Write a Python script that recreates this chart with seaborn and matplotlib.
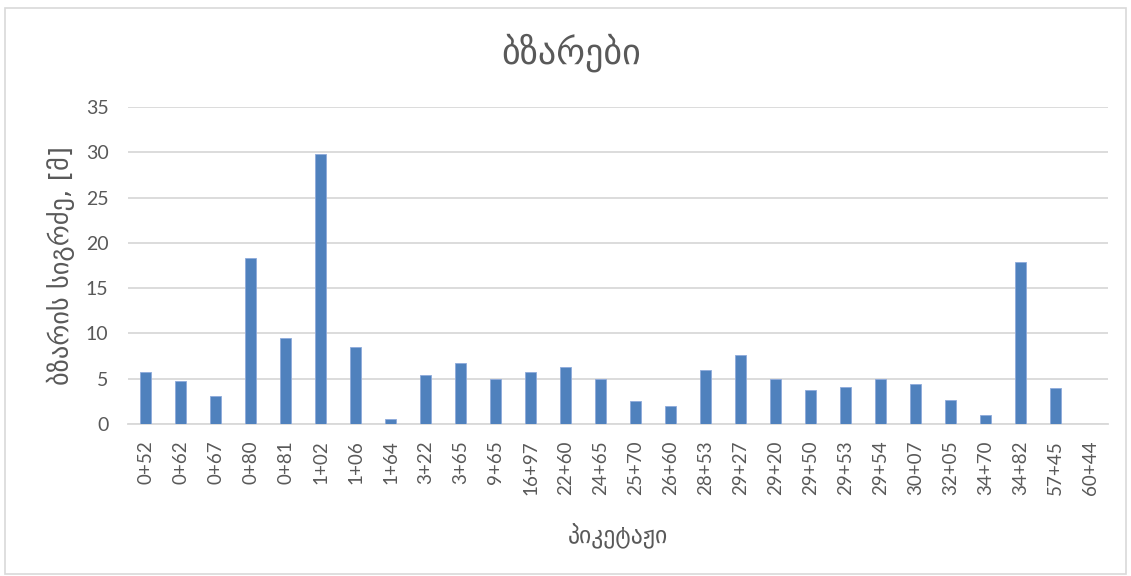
import matplotlib
matplotlib.use("Agg")
import matplotlib.pyplot as plt
import seaborn as sns
import pandas as pd
from matplotlib.patches import Rectangle

# Crack length per chainage station
stations = ["0+52", "0+62", "0+67", "0+80", "0+81", "1+02", "1+06", "1+64",
            "3+22", "3+65", "9+65", "16+97", "22+60", "24+65", "25+70", "26+60",
            "28+53", "29+27", "29+20", "29+50", "29+53", "29+54", "30+07", "32+05",
            "34+70", "34+82", "57+45", "60+44"]
lengths = [5.7, 4.7, 3.1, 18.3, 9.5, 29.8, 8.5, 0.5,
           5.4, 6.7, 5.0, 5.7, 6.3, 5.0, 2.5, 1.95,
           6.0, 7.6, 5.0, 3.8, 4.1, 5.0, 4.4, 2.7,
           0.95, 17.9, 4.0, 0.0]

title = "ბზარები"
ylabel = "ბზარის სიგრძე, [მ]"
xlabel = "პიკეტაჟი"

df = pd.DataFrame({"station": stations, "length": lengths})

sns.set_theme(style="white")
num_font = ["Lato", "DejaVu Sans"]
geo_font = ["DejaVu Sans"]
text_grey = "#595959"

fig = plt.figure(figsize=(11.31, 5.76), dpi=100)
ax = fig.add_axes([0.1132, 0.2639, 0.8665, 0.5503])

sns.barplot(data=df, x="station", y="length", color="#4f81bd", saturation=1,
            width=0.31, edgecolor="#8eaadb", linewidth=0.6, ax=ax, zorder=3)

ax.set_ylim(0, 35)
ax.set_xlim(-0.5, len(stations) - 0.5)
ax.set_yticks(range(0, 36, 5))
ax.yaxis.grid(True, color="#d9d9d9", linewidth=1.3, zorder=0)
ax.xaxis.grid(False)
for s in ["top", "right", "left"]:
    ax.spines[s].set_visible(False)
ax.spines["bottom"].set_color("#d9d9d9")
ax.spines["bottom"].set_linewidth(1.3)

ax.tick_params(axis="y", length=0, pad=14, labelsize=14, labelcolor=text_grey)
ax.tick_params(axis="x", length=0, pad=12, labelsize=13.5, labelcolor=text_grey,
               labelrotation=90)
for lab in ax.get_xticklabels() + ax.get_yticklabels():
    lab.set_family(num_font)

ax.set_xlabel(xlabel, family=geo_font, fontsize=17, color=text_grey, labelpad=20)
ax.set_ylabel(ylabel, family=geo_font, fontsize=19, color=text_grey, labelpad=8)

fig.text(0.505, 0.908, title, ha="center", va="center", family=geo_font,
         fontsize=26, color=text_grey)

# light frame around the chart area
fig.patches.append(Rectangle((0.004, 0.004), 0.992, 0.982, transform=fig.transFigure,
                             fill=False, edgecolor="#d9d9d9", linewidth=1.2))

fig.savefig("out.png", dpi=100, facecolor="white")
